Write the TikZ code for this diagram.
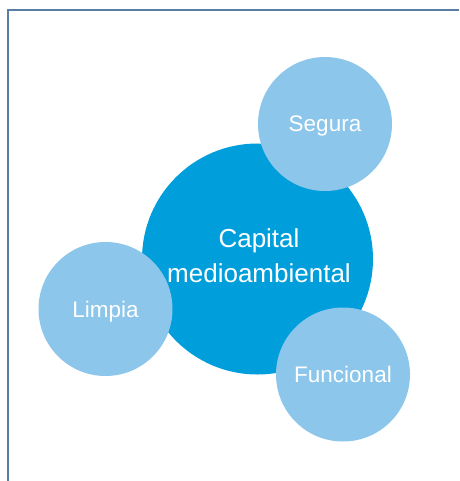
\documentclass[tikz,border=0pt]{standalone}
\usepackage{fontspec}
\setmainfont{Liberation Sans}
\definecolor{corefill}{HTML}{009EDB}
\definecolor{petalfill}{HTML}{8DC6EB}
\definecolor{framecol}{HTML}{5A7DA3}
\tikzset{
  corecircle/.style={circle, fill=corefill, draw=none, inner sep=0pt, minimum size=231pt},
  petal/.style={circle, fill=petalfill, draw=none, inner sep=0pt, minimum size=134pt,
    text=white, text depth=0pt, font=\fontsize{22.5}{27}\selectfont},
  corelabel/.style={text=white, align=center, inner sep=0pt, font=\fontsize{26}{35}\selectfont},
  framelines/.style={draw=framecol, line width=1.3pt}
}
\begin{document}
\begin{tikzpicture}[x=1pt, y=-1pt]
  \useasboundingbox (0,0) rectangle (459,481);
  % page frame (top and left rules)
  \coordinate (fbl) at (8,481);
  \coordinate (ftl) at (8,10);
  \coordinate (ftr) at (459,10);
  \draw[framelines] (fbl) -- (ftl) -- (ftr);
  % central circle
  \node[corecircle] (core) at (257.5,259) {};
  \node[corelabel] (coretext) at (259,256) {Capital\\medioambiental};
  % surrounding circles
  \node[petal] (segura) at (325,124) {Segura};
  \node[petal] (limpia) at (105.5,309) {Limpia};
  \node[petal] (funcional) at (343,374.5) {Funcional};
\end{tikzpicture}
\end{document}
